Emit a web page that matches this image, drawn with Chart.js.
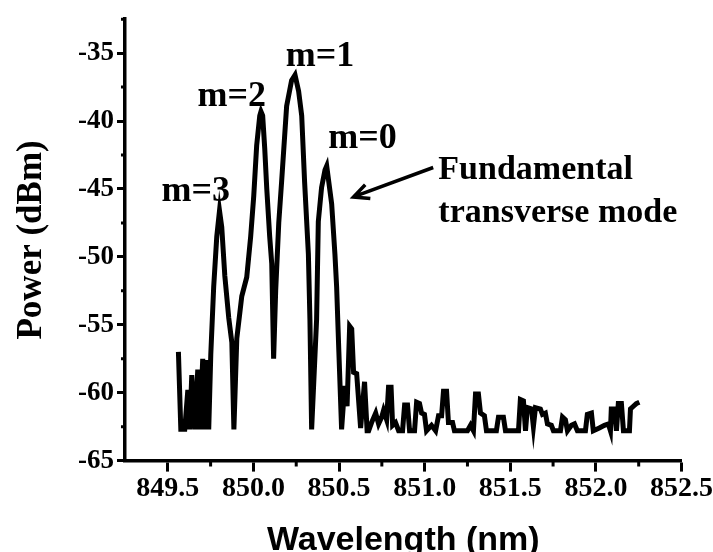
<!DOCTYPE html>
<html>
<head>
<meta charset="utf-8">
<script src="https://cdn.jsdelivr.net/npm/chart.js@4.4.1/dist/chart.umd.min.js"></script>
<style>
  html, body { margin: 0; padding: 0; background: #fff; overflow: hidden; }
  #wrap { position: relative; width: 713px; height: 561px; }
</style>
</head>
<body>
<div id="wrap"><canvas id="spectrum"></canvas></div>
<script>
// Spectrum data (nm, dBm)
const wavelength = [
  849.562, 849.576, 849.599, 849.617, 849.628, 849.640, 849.658, 849.675, 849.687, 849.704,
  849.716, 849.728, 849.739, 849.751, 849.768, 849.786, 849.802, 849.815, 849.833, 849.856,
  849.874, 849.886, 849.903, 849.932, 849.961, 849.984, 850.002, 850.019, 850.037, 850.044,
  850.054, 850.066, 850.078, 850.095, 850.107, 850.118, 850.130, 850.148, 850.165, 850.194,
  850.223, 850.243, 850.264, 850.282, 850.299, 850.321, 850.330, 850.340, 850.369, 850.379,
  850.398, 850.418, 850.428, 850.457, 850.476, 850.486, 850.499, 850.515, 850.533, 850.547,
  850.562, 850.574, 850.585, 850.603, 850.626, 850.649, 850.664, 850.673,
  850.690, 850.714, 850.731, 850.749, 850.760, 850.778, 850.789, 850.804, 850.813, 850.830,
  850.848, 850.871, 850.883, 850.900, 850.912, 850.941, 850.953, 850.970, 850.982, 850.999,
  851.011, 851.040, 851.064, 851.081, 851.099, 851.110, 851.128, 851.139, 851.163, 851.174,
  851.250, 851.268, 851.285, 851.297, 851.314, 851.326, 851.349, 851.361, 851.419, 851.431,
  851.460, 851.472, 851.548, 851.559, 851.577, 851.589, 851.600, 851.624, 851.635, 851.647,
  851.676, 851.688, 851.705, 851.717, 851.740, 851.752, 851.793, 851.805, 851.822, 851.834,
  851.857, 851.875, 851.892, 851.939, 851.950, 851.974, 851.985, 852.020, 852.050, 852.073,
  852.085, 852.090, 852.108, 852.120, 852.131, 852.149, 852.161, 852.196, 852.202, 852.219,
  852.236, 852.254
];
const power = [
  -57.0, -62.7, -62.7, -59.8, -62.7, -58.7, -62.7, -58.3, -62.7, -57.5,
  -62.7, -57.6, -62.7, -57.2, -52.2, -48.5, -46.6, -47.8, -51.4, -54.5,
  -56.3, -62.7, -56.0, -52.9, -51.5, -48.5, -45.5, -41.8, -39.6, -39.3,
  -39.6, -42.0, -45.0, -48.5, -50.5, -57.5, -52.5, -47.5, -44.4, -38.9,
  -37.0, -36.6, -37.8, -39.6, -44.5, -49.8, -54.6, -62.7, -54.6, -47.4,
  -44.9, -43.6, -43.3, -46.1, -49.8, -52.2, -57.0, -62.7, -59.5, -61.0,
  -55.1, -55.3, -58.5, -58.6, -62.6, -59.2, -62.8, -62.8,
  -62.2, -61.5, -62.3, -61.8, -61.3, -62.0, -59.6, -59.6, -62.4, -62.2,
  -62.8, -62.8, -60.9, -60.9, -62.8, -62.8, -60.7, -60.8, -61.5, -61.6,
  -62.8, -62.4, -62.8, -61.7, -61.7, -59.9, -59.9, -62.2, -62.2, -62.8,
  -62.8, -62.4, -62.8, -60.1, -60.1, -61.5, -61.7, -62.8, -62.8, -61.8,
  -61.8, -62.8, -62.8, -60.5, -60.6, -62.8, -61.1, -61.2, -62.5, -61.1,
  -61.2, -61.6, -61.5, -62.3, -62.4, -62.8, -62.8, -61.8, -62.0, -62.8,
  -62.4, -62.3, -62.8, -62.8, -61.6, -61.5, -62.8, -62.6, -62.4, -62.3,
  -62.8, -61.2, -61.2, -62.8, -60.8, -60.8, -62.8, -62.8, -61.2, -61.0,
  -60.8, -60.7
];

// axis ticks
const xTickLabels = [849.5, 850.0, 850.5, 851.0, 851.5, 852.0, 852.5];
const yTickLabels = [-65, -60, -55, -50, -45, -40, -35];

// mode labels: [text, wavelength, power at baseline]
const modeLabels = [
  ['m=3', 849.663, -45.88],
  ['m=2', 849.873, -38.86],
  ['m=1', 850.389, -35.96],
  ['m=0', 850.637, -41.97]
];
const noteLines = [
  ['Fundamental', 851.08, -44.29],
  ['transverse mode', 851.08, -47.40]
];
const arrowFrom = [851.05, -43.42];
const arrowTo = [850.584, -45.59];

const SERIF = "'Liberation Serif', 'Times New Roman', serif";
const SANS = "'Liberation Sans', Arial, sans-serif";

function isMajor(v, list) {
  return list.some(t => Math.abs(t - v) < 1e-6);
}

// short minor ticks + text annotations
const extras = {
  id: 'extras',
  afterDraw(chart) {
    const c = chart.ctx;
    const xs = chart.scales.x, ys = chart.scales.y;
    c.save();
    c.strokeStyle = '#000';
    c.lineWidth = 3;
    c.beginPath();
    xs.ticks.forEach(t => {
      if (isMajor(t.value, xTickLabels) || t.value < xs.min + 1e-6) return;
      const px = xs.getPixelForValue(t.value);
      c.moveTo(px, xs.top);
      c.lineTo(px, xs.top + 6);
    });
    ys.ticks.forEach(t => {
      if (isMajor(t.value, yTickLabels)) return;
      const py = ys.getPixelForValue(t.value);
      c.moveTo(ys.right, py);
      c.lineTo(ys.right - 4, py);
    });
    c.stroke();

    c.fillStyle = '#000';
    c.textBaseline = 'alphabetic';
    c.font = 'bold 36px ' + SERIF;
    c.textAlign = 'center';
    modeLabels.forEach(([txt, wl, p]) => {
      c.fillText(txt, xs.getPixelForValue(wl), ys.getPixelForValue(p));
    });
    c.font = 'bold 34px ' + SERIF;
    c.textAlign = 'left';
    noteLines.forEach(([txt, wl, p]) => {
      c.fillText(txt, xs.getPixelForValue(wl), ys.getPixelForValue(p));
    });

    // arrow
    const x1 = xs.getPixelForValue(arrowFrom[0]), y1 = ys.getPixelForValue(arrowFrom[1]);
    const x2 = xs.getPixelForValue(arrowTo[0]), y2 = ys.getPixelForValue(arrowTo[1]);
    const ang = Math.atan2(y2 - y1, x2 - x1);
    c.lineWidth = 3.5;
    c.beginPath();
    c.moveTo(x1, y1);
    c.lineTo(x2, y2);
    const head = 17, spread = 0.45;
    c.moveTo(x2 - head * Math.cos(ang - spread), y2 - head * Math.sin(ang - spread));
    c.lineTo(x2, y2);
    c.lineTo(x2 - head * Math.cos(ang + spread), y2 - head * Math.sin(ang + spread));
    c.stroke();
    c.restore();
  }
};

const ctx = document.getElementById('spectrum').getContext('2d');
new Chart(ctx, {
  type: 'line',
  data: {
    datasets: [{
      data: wavelength.map((w, i) => ({ x: w, y: power[i] })),
      borderColor: '#000',
      borderWidth: 5,
      pointRadius: 0,
      tension: 0,
      fill: false
    }]
  },
  options: {
    responsive: true,
    maintainAspectRatio: false,
    devicePixelRatio: 1,
    animation: false,
    layout: { padding: { top: 8, right: 0, left: 0, bottom: 0 } },
    plugins: { legend: { display: false }, tooltip: { enabled: false } },
    scales: {
      x: {
        type: 'linear',
        min: 849.25,
        max: 852.5,
        border: { color: '#000', width: 3.5 },
        grid: {
          drawOnChartArea: false,
          tickLength: 11,
          tickWidth: 3,
          tickColor: c => isMajor(c.tick.value, xTickLabels) ? '#000' : 'rgba(0,0,0,0)'
        },
        ticks: {
          stepSize: 0.25,
          autoSkip: false,
          maxRotation: 0,
          padding: 0,
          color: '#000',
          font: { family: SERIF, size: 28, weight: 'bold' },
          callback: v => isMajor(v, xTickLabels) ? v.toFixed(1) : ''
        },
        title: {
          display: true,
          text: 'Wavelength (nm)',
          color: '#000',
          font: { family: SANS, size: 34, weight: 'bold' },
          padding: { top: 15, bottom: 0 }
        }
      },
      y: {
        type: 'linear',
        min: -65,
        max: -32.5,
        border: { color: '#000', width: 3.5 },
        grid: {
          drawOnChartArea: false,
          tickLength: 8,
          tickWidth: 3,
          tickColor: c => isMajor(c.tick.value, yTickLabels) ? '#000' : 'rgba(0,0,0,0)'
        },
        ticks: {
          stepSize: 2.5,
          autoSkip: false,
          padding: 3,
          color: '#000',
          font: { family: SERIF, size: 27, weight: 'bold' },
          callback: v => isMajor(v, yTickLabels) ? String(v) : ''
        },
        title: {
          display: true,
          text: 'Power (dBm)',
          color: '#000',
          font: { family: SERIF, size: 35, weight: 'bold' },
          padding: { top: 11, bottom: 22 }
        }
      }
    }
  },
  plugins: [extras]
});
</script>
</body>
</html>
